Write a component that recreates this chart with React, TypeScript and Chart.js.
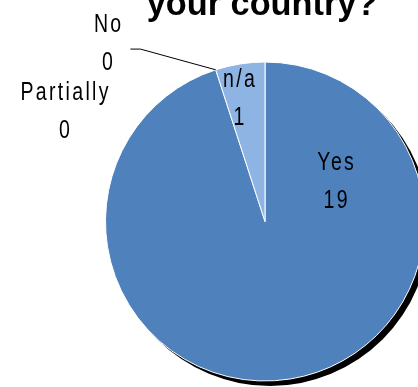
import React, { useEffect, useRef } from "react";
import { Chart, registerables } from "chart.js";

Chart.register(...registerables);

const categories = ["Yes", "No", "Partially", "n/a"];
const values = [19, 0, 0, 1];
const sliceColors = ["#4F81BD", "#4F81BD", "#4F81BD", "#8EB4E3"];
const titleText = "your country?";
// label anchor offsets relative to pie centre, in units of radius
const labelOffsets: [number, number][] = [
  [0.45, -0.325],
  [-0.98, -1.19],
  [-1.25, -0.76],
  [-0.156, -0.845],
];

const LABEL_FONT = '25px "Liberation Sans", sans-serif';

function narrowText(ctx: CanvasRenderingContext2D, text: string, x: number, y: number, sx: number) {
  ctx.save();
  ctx.translate(x, y);
  ctx.scale(sx, 1);
  ctx.fillText(text, 0, 0);
  ctx.restore();
}

const decorPlugin = {
  id: "decor",
  beforeDatasetsDraw(chart: any) {
    const meta = chart.getDatasetMeta(0);
    const arc = meta.data[0];
    if (!arc) return;
    const { x, y, outerRadius } = arc.getProps(["x", "y", "outerRadius"], true);
    const ctx = chart.ctx;
    ctx.save();
    ctx.fillStyle = "#000";
    ctx.beginPath();
    ctx.arc(x + 5, y + 5, outerRadius, 0, Math.PI * 2);
    ctx.fill();
    ctx.restore();
  },
  afterDatasetsDraw(chart: any) {
    const meta = chart.getDatasetMeta(0);
    const arc0 = meta.data[0];
    if (!arc0) return;
    const { x, y, outerRadius: r } = arc0.getProps(["x", "y", "outerRadius"], true);
    const ctx = chart.ctx;
    ctx.save();
    // leader line to the zero "No" slice
    const noArc = meta.data[1];
    const a = noArc.getProps(["startAngle"], true).startAngle;
    const ex = x + r * Math.cos(a);
    const ey = y + r * Math.sin(a);
    ctx.strokeStyle = "#000";
    ctx.lineWidth = 1;
    ctx.beginPath();
    ctx.moveTo(x - 0.844 * r, y - 1.081 * r);
    ctx.lineTo(x - 0.781 * r, y - 1.081 * r);
    ctx.lineTo(ex, ey);
    ctx.stroke();

    // labels
    ctx.fillStyle = "#000";
    ctx.font = LABEL_FONT;
    ctx.textAlign = "center";
    ctx.textBaseline = "alphabetic";
    (ctx as any).letterSpacing = "3px";
    categories.forEach((c, i) => {
      const [ox, oy] = labelOffsets[i];
      const lx = x + ox * r;
      const ly = y + oy * r;
      narrowText(ctx, c, lx, ly, 0.78);
      narrowText(ctx, String(values[i]), lx, ly + 38, 0.78);
    });

    // title (top cut off)
    (ctx as any).letterSpacing = "0px";
    ctx.font = 'bold 35px "Liberation Sans", sans-serif';
    narrowText(ctx, titleText, x - 3, 15, 0.98);
    ctx.restore();
  },
};

export default function App() {
  const ref = useRef<HTMLCanvasElement | null>(null);
  useEffect(() => {
    document.body.style.margin = "0";
    if (!ref.current) return;
    const chart = new Chart(ref.current, {
      type: "pie",
      data: {
        labels: categories,
        datasets: [
          {
            data: values,
            backgroundColor: sliceColors,
            borderColor: "#FFFFFF",
            borderWidth: 1,
          },
        ],
      },
      options: {
        responsive: false,
        animation: false,
        layout: { padding: { top: 61, bottom: 5, left: 105, right: 15 } },
        plugins: {
          legend: { display: false },
          tooltip: { enabled: false },
          title: { display: false },
        },
      },
      plugins: [decorPlugin],
    });
    return () => chart.destroy();
  }, []);
  return (
    <div style={{ position: "fixed", left: 0, top: 0, width: 418, height: 387, overflow: "hidden", background: "#fff" }}>
      <canvas ref={ref} width={440} height={387} style={{ display: "block" }} />
    </div>
  );
}
